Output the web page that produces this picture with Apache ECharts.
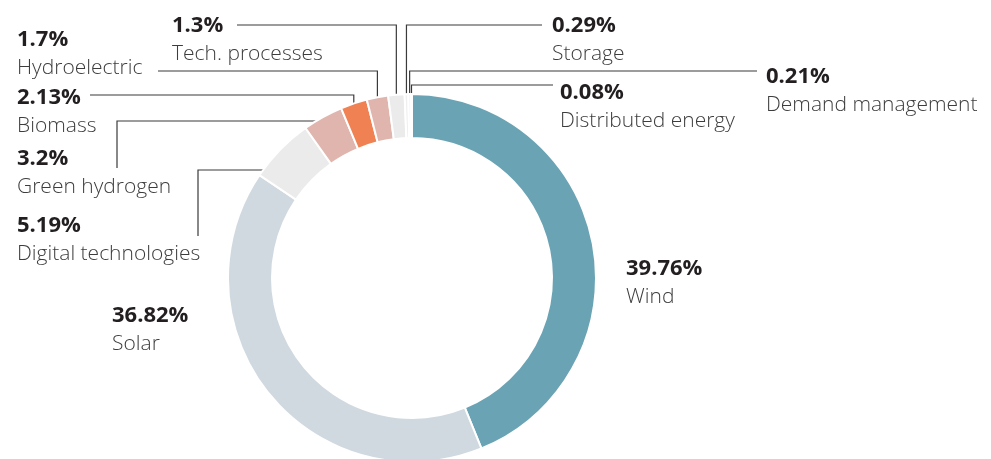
<!DOCTYPE html>
<html>
<head>
<meta charset="utf-8">
<script src="https://cdn.jsdelivr.net/npm/echarts@6/dist/echarts.min.js"></script>
<style>
  html, body { margin: 0; padding: 0; background: #fff; }
  #chart { width: 991px; height: 459px; }
</style>
</head>
<body>
<div id="chart"></div>
<script>
const categories = ['Wind', 'Solar', 'Digital technologies', 'Green hydrogen', 'Biomass',
  'Hydroelectric', 'Tech. processes', 'Storage', 'Demand management', 'Distributed energy'];
const shares = [39.76, 36.82, 5.19, 3.2, 2.13, 1.7, 1.3, 0.29, 0.21, 0.08];
const sliceColors = ['#6aa3b4', '#d0d9e0', '#ebebeb', '#e0b5ad', '#f08153',
  '#e0b5ad', '#ebebeb', '#efefef', '#f1f1f1', '#f3f3f3'];

// top-left corner of each label block
const labelPos = [[626, 255], [112, 302], [17, 212], [17, 145], [17, 84],
  [17, 26], [172, 12], [552, 12], [766, 63], [560, 79]];
// leader lines: 'v' = up from the ring then across, 'h' = across from the ring then down
const leaders = [null, null,
  { turn: 'h', y: 170, x: 198, end: 236 },
  { turn: 'h', y: 121, x: 117, end: 168 },
  { turn: 'v', y: 95, x: 90 },
  { turn: 'v', y: 71, x: 158 },
  { turn: 'v', y: 25, x: 237 },
  { turn: 'v', y: 25, x: 542 },
  { turn: 'v', y: 71, x: 757 },
  { turn: 'v', y: 85, x: 553 }];

const CX = 412, CY = 278, R_IN = 140, R_OUT = 184;
const FONT = '"Open Sans", "Noto Sans", sans-serif';

const chart = echarts.init(document.getElementById('chart'));

chart.setOption({
  animation: false,
  series: [{
    type: 'pie',
    center: [CX, CY],
    radius: [R_IN, R_OUT],
    startAngle: 90,
    clockwise: true,
    avoidLabelOverlap: false,
    silent: true,
    itemStyle: { borderColor: '#fff', borderWidth: 2 },
    label: {
      show: true,
      position: 'outside',
      formatter: p => '{v|' + p.value + '%}\n{n|' + p.name + '}',
      rich: {
        v: { fontFamily: FONT, fontSize: 22, fontWeight: 'bold', color: '#231f20', lineHeight: 28 },
        n: { fontFamily: FONT, fontSize: 21, fontWeight: 300, color: '#3d3d3d', lineHeight: 28 }
      }
    },
    labelLine: {
      show: true,
      length: 10,
      length2: 10,
      lineStyle: { color: '#3a3a3a', width: 1.2 }
    },
    labelLayout: function (p) {
      const i = p.dataIndex;
      const out = { x: labelPos[i][0], y: labelPos[i][1], align: 'left', verticalAlign: 'top' };
      const g = leaders[i];
      if (g && p.labelLinePoints) {
        const a = p.labelLinePoints[0];
        if (g.turn === 'v') {
          out.labelLinePoints = [[a[0], a[1]], [a[0], g.y], [g.x, g.y]];
        } else {
          const sx = CX - Math.sqrt(R_OUT * R_OUT - (g.y - CY) * (g.y - CY));
          out.labelLinePoints = [[sx, g.y], [g.x, g.y], [g.x, g.end]];
        }
      }
      return out;
    },
    data: categories.map((name, i) => ({
      name: name,
      value: shares[i],
      itemStyle: { color: sliceColors[i] },
      labelLine: { show: leaders[i] !== null }
    }))
  }]
});
</script>
</body>
</html>
